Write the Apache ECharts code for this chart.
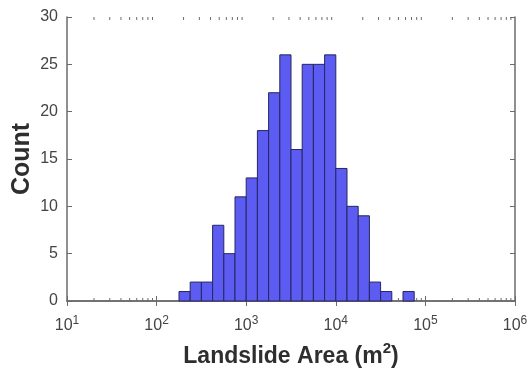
<!DOCTYPE html>
<html>
<head>
<meta charset="utf-8">
<script src="https://cdn.jsdelivr.net/npm/echarts@6/dist/echarts.min.js"></script>
<style>
  html, body { margin: 0; padding: 0; background: #fff; }
  #chart { width: 532px; height: 372px; }
</style>
</head>
<body>
<div id="chart"></div>
<script>
// bin edges as log10 exponents (width 0.125 decade)
const binEdgesLog = [2.25, 2.375, 2.5, 2.625, 2.75, 2.875, 3.0, 3.125, 3.25, 3.375, 3.5,
  3.625, 3.75, 3.875, 4.0, 4.125, 4.25, 4.375, 4.5, 4.625, 4.75, 4.875];
const counts = [1, 2, 2, 8, 5, 11, 13, 18, 22, 26, 16, 25, 25, 26, 14, 10, 9, 2, 1, 0, 1];
const yTicks = [0, 5, 10, 15, 20, 25, 30];
const minorMult = [2, 3, 4, 5, 6, 7, 8, 9];
const decades = [10, 100, 1000, 10000, 100000];

const axisColor = '#6b6b6b';
const textColor = '#444';
const fontFam = '"Liberation Sans", Arial, sans-serif';

const bins = counts.map((c, i) => [Math.pow(10, binEdgesLog[i]), Math.pow(10, binEdgesLog[i + 1]), c]);
const minorTicks = [];
decades.forEach(d => minorMult.forEach(m => minorTicks.push([d * m])));

const chart = echarts.init(document.getElementById('chart'));

const xLabel = v => {
  const e = Math.round(Math.log10(v));
  return '{b|10}{s|' + e + '}';
};

chart.setOption({
  animation: false,
  backgroundColor: '#fff',
  grid: { left: 67, right: 17, top: 17, bottom: 71, containLabel: false, outerBoundsMode: 'none' },
  xAxis: [
    {
      type: 'log', min: 10, max: 1000000, logBase: 10,
      axisLine: { lineStyle: { color: axisColor, width: 1.5 } },
      axisTick: { inside: true, length: 5, lineStyle: { color: axisColor } },
      splitLine: { show: false },
      axisLabel: {
        formatter: xLabel, margin: 14,
        rich: {
          b: { fontSize: 16, color: textColor, fontFamily: fontFam },
          s: { fontSize: 12, color: textColor, fontFamily: fontFam, padding: [0, 0, 9, 0] }
        }
      },
      name: '{t|Landslide Area (m}{u|2}{t|)}',
      nameLocation: 'middle', nameGap: 40, nameMoveOverlap: false,
      nameTextStyle: {
        rich: {
          t: { fontSize: 23, fontWeight: 'bold', color: '#2e2e2e', fontFamily: fontFam },
          u: { fontSize: 15, fontWeight: 'bold', color: '#2e2e2e', fontFamily: fontFam, padding: [0, 0, 17, 0] }
        }
      }
    },
    {
      type: 'log', min: 10, max: 1000000, logBase: 10, position: 'top',
      axisLine: { lineStyle: { color: axisColor, width: 1.5 } },
      axisTick: { inside: true, length: 5, lineStyle: { color: axisColor } },
      axisLabel: { show: false }, splitLine: { show: false }
    }
  ],
  yAxis: [
    {
      type: 'value', min: 0, max: 30, interval: 5,
      axisLine: { show: true, lineStyle: { color: axisColor, width: 1.5 } },
      axisTick: { show: true, inside: true, length: 5, lineStyle: { color: axisColor } },
      splitLine: { show: false },
      axisLabel: { fontSize: 16, color: textColor, fontFamily: fontFam, margin: 9 },
      name: 'Count', nameLocation: 'middle', nameGap: 32, nameRotate: 90, nameMoveOverlap: false,
      nameTextStyle: { fontSize: 25, fontWeight: 'bold', color: '#2e2e2e', fontFamily: fontFam }
    },
    {
      type: 'value', min: 0, max: 30, interval: 5, position: 'right',
      axisLine: { show: true, lineStyle: { color: axisColor, width: 1.5 } },
      axisTick: { show: true, inside: true, length: 5, lineStyle: { color: axisColor } },
      axisLabel: { show: false }, splitLine: { show: false }
    }
  ],
  series: [
    {
      type: 'custom',
      data: bins,
      renderItem: (params, api) => {
        const p0 = api.coord([api.value(0), 0]);
        const p1 = api.coord([api.value(1), api.value(2)]);
        if (api.value(2) <= 0) return null;
        return {
          type: 'rect',
          shape: { x: p0[0], y: p1[1], width: p1[0] - p0[0], height: p0[1] - p1[1] },
          style: { fill: '#5c5cf2', stroke: '#262660', lineWidth: 1 }
        };
      },
      z: 3
    },
    {
      type: 'custom',
      data: minorTicks,
      silent: true,
      renderItem: (params, api) => {
        const pb = api.coord([api.value(0), 0]);
        const pt = api.coord([api.value(0), 30]);
        const st = { stroke: axisColor, lineWidth: 1 };
        return {
          type: 'group',
          children: [
            { type: 'line', shape: { x1: pb[0], y1: pb[1], x2: pb[0], y2: pb[1] - 3 }, style: st },
            { type: 'line', shape: { x1: pt[0], y1: pt[1], x2: pt[0], y2: pt[1] + 3 }, style: st }
          ]
        };
      },
      z: 2
    }
  ]
});
</script>
</body>
</html>
